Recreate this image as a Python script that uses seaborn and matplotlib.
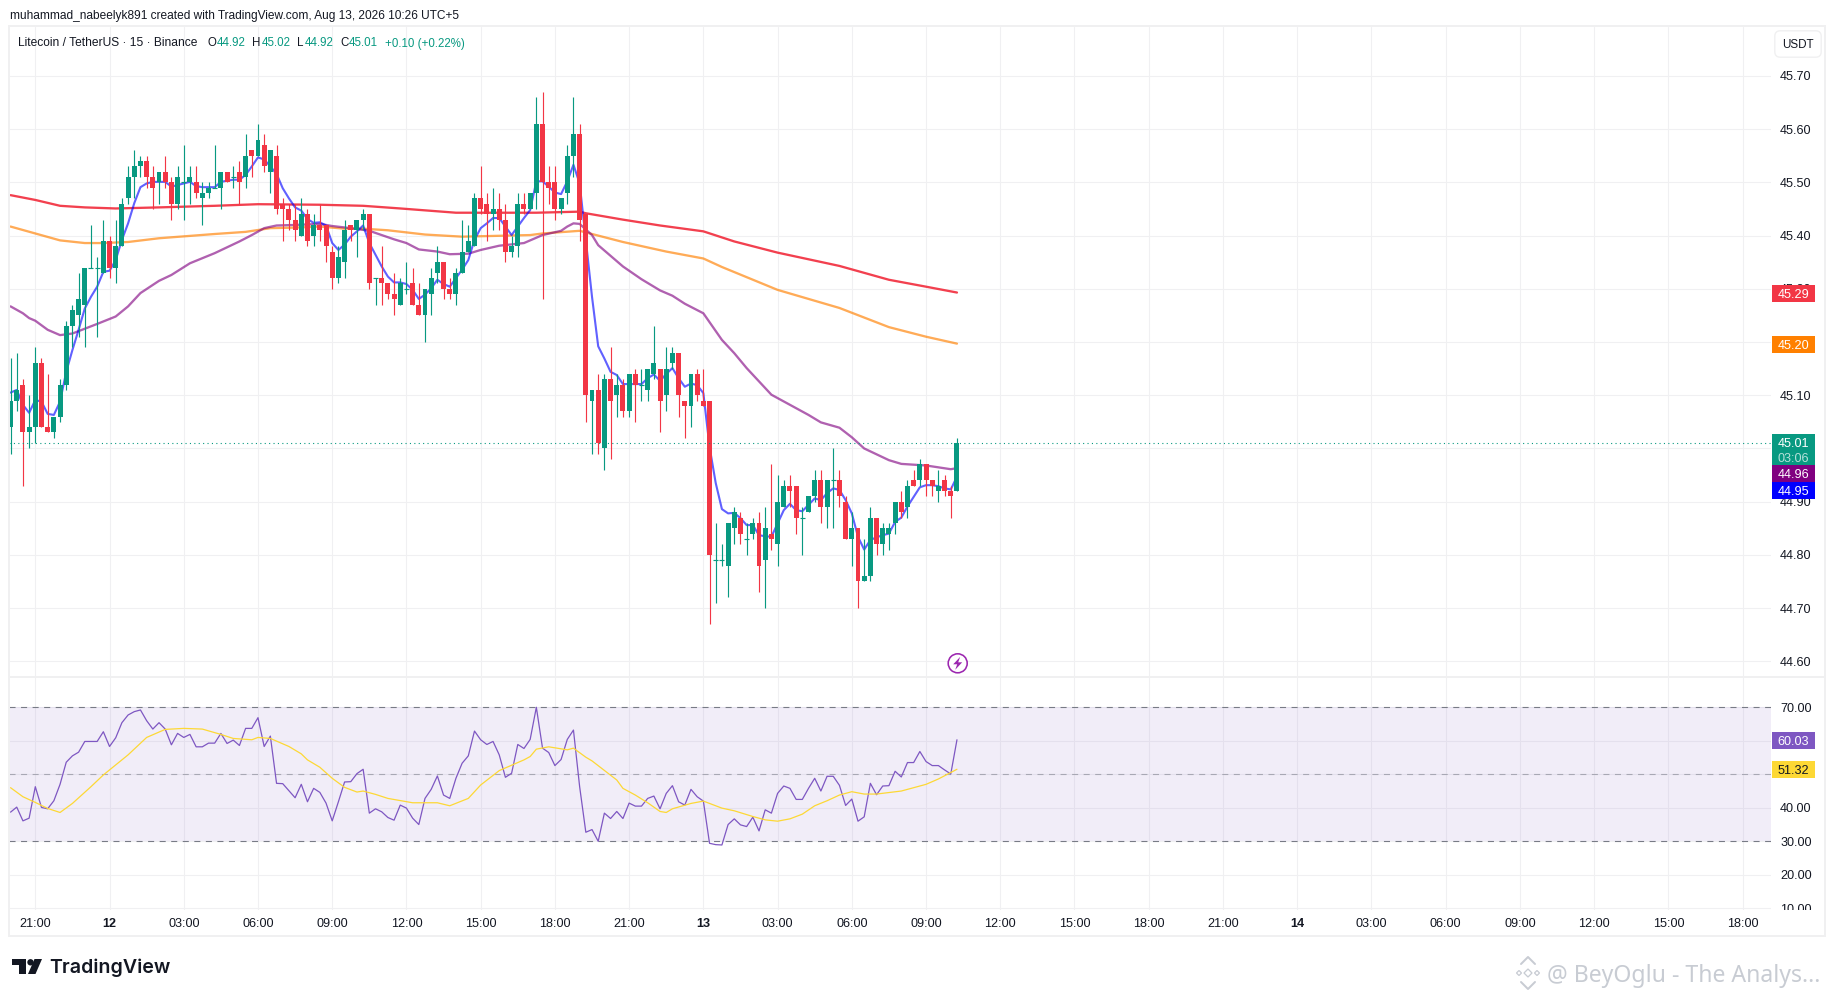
import numpy as np
import pandas as pd
import seaborn as sns
import matplotlib
matplotlib.use("Agg")
import matplotlib.pyplot as plt
from matplotlib.patches import Rectangle, FancyBboxPatch, Polygon, Circle
from matplotlib.lines import Line2D
from matplotlib.transforms import Bbox

# ---------- data ----------
opens = [45.04,45.09,45.12,45.03,45.04,45.16,45.04,45.03,45.06,45.12,
 45.23,45.25,45.27,45.34,45.34,45.33,45.39,45.34,45.38,45.47,
 45.51,45.53,45.54,45.51,45.50,45.52,45.50,45.46,45.50,45.50,
 45.50,45.47,45.48,45.49,45.49,45.52,45.51,45.52,45.51,45.56,
 45.55,45.57,45.52,45.55,45.46,45.45,45.43,45.40,45.44,45.40,
 45.42,45.42,45.37,45.32,45.35,45.42,45.41,45.43,45.44,45.32,
 45.32,45.31,45.29,45.27,45.30,45.31,45.27,45.25,45.29,45.33,
 45.35,45.30,45.29,45.33,45.37,45.38,45.47,45.46,45.44,45.45,
 45.43,45.37,45.38,45.46,45.45,45.48,45.61,45.50,45.50,45.45,
 45.48,45.55,45.59,45.44,45.09,45.11,45.00,45.13,45.10,45.12,
 45.07,45.14,45.12,45.11,45.14,45.15,45.10,45.16,45.18,45.09,
 45.08,45.14,45.09,45.09,44.79,44.79,44.78,44.85,44.87,44.83,
 44.84,44.86,44.79,44.84,44.82,44.89,44.93,44.93,44.87,44.88,
 44.91,44.94,44.89,44.94,44.94,44.90,44.83,44.85,44.75,44.76,
 44.87,44.82,44.84,44.86,44.90,44.89,44.94,44.94,44.97,44.94,
 44.92,44.94,44.92,44.92]
closes = [45.09,45.11,45.03,45.04,45.16,45.04,45.03,45.06,45.12,45.23,
 45.26,45.28,45.34,45.34,45.34,45.39,45.34,45.38,45.46,45.51,
 45.53,45.54,45.51,45.49,45.52,45.50,45.46,45.51,45.50,45.51,
 45.48,45.48,45.49,45.49,45.52,45.50,45.51,45.50,45.55,45.55,
 45.58,45.53,45.56,45.45,45.45,45.43,45.41,45.44,45.39,45.42,
 45.41,45.38,45.32,45.36,45.41,45.41,45.43,45.44,45.31,45.32,
 45.31,45.29,45.28,45.31,45.30,45.27,45.25,45.30,45.32,45.35,
 45.30,45.29,45.33,45.37,45.39,45.47,45.45,45.44,45.45,45.43,
 45.37,45.38,45.46,45.45,45.48,45.61,45.50,45.49,45.45,45.47,
 45.55,45.59,45.43,45.10,45.11,45.01,45.13,45.09,45.12,45.07,
 45.14,45.12,45.12,45.15,45.16,45.09,45.15,45.18,45.10,45.08,
 45.14,45.10,45.08,44.80,44.79,44.79,44.86,44.88,44.84,44.83,
 44.86,44.78,44.85,44.83,44.90,44.93,44.92,44.87,44.87,44.91,
 44.94,44.89,44.94,44.94,44.91,44.83,44.85,44.75,44.76,44.87,
 44.82,44.85,44.85,44.90,44.88,44.93,44.93,44.97,44.94,44.93,
 44.93,44.92,44.91,45.01]
highs = [45.17,45.18,45.13,45.10,45.19,45.17,45.14,45.06,45.13,45.24,
 45.27,45.33,45.34,45.42,45.36,45.43,45.40,45.43,45.47,45.53,
 45.56,45.55,45.55,45.53,45.52,45.55,45.51,45.53,45.57,45.53,
 45.53,45.50,45.50,45.57,45.52,45.52,45.53,45.54,45.59,45.56,
 45.61,45.59,45.56,45.57,45.47,45.46,45.46,45.47,45.45,45.44,
 45.46,45.42,45.38,45.38,45.43,45.42,45.43,45.45,45.44,45.32,
 45.38,45.31,45.33,45.32,45.35,45.34,45.31,45.30,45.34,45.38,
 45.35,45.32,45.34,45.43,45.42,45.48,45.53,45.48,45.49,45.48,
 45.46,45.40,45.48,45.48,45.48,45.66,45.67,45.53,45.53,45.47,
 45.57,45.66,45.61,45.44,45.11,45.14,45.14,45.19,45.14,45.13,
 45.14,45.15,45.15,45.15,45.23,45.15,45.19,45.19,45.18,45.09,
 45.14,45.15,45.15,45.09,44.86,44.82,44.86,44.89,44.88,44.86,
 44.87,44.88,44.89,44.97,44.95,44.94,44.95,44.93,44.89,44.91,
 44.96,44.96,44.94,45.00,44.96,44.91,44.88,44.85,44.83,44.89,
 44.87,44.86,44.86,44.90,44.92,44.94,44.96,44.98,44.97,44.94,
 44.96,44.95,44.93,45.02]
lows = [44.99,45.07,44.93,45.00,45.01,45.04,45.03,45.02,45.05,45.11,
 45.19,45.21,45.19,45.34,45.21,45.33,45.32,45.31,45.38,45.46,
 45.47,45.51,45.49,45.45,45.46,45.49,45.43,45.45,45.43,45.46,
 45.47,45.42,45.47,45.49,45.45,45.50,45.49,45.46,45.49,45.51,
 45.55,45.52,45.48,45.44,45.39,45.41,45.39,45.40,45.38,45.38,
 45.39,45.35,45.30,45.31,45.32,45.39,45.36,45.41,45.30,45.27,
 45.27,45.28,45.25,45.27,45.29,45.27,45.25,45.20,45.25,45.31,
 45.28,45.28,45.27,45.33,45.37,45.38,45.44,45.39,45.41,45.41,
 45.35,45.36,45.36,45.44,45.45,45.45,45.28,45.46,45.43,45.44,
 45.46,45.51,45.39,45.05,44.99,44.99,44.96,44.98,45.06,45.06,
 45.06,45.05,45.09,45.09,45.13,45.03,45.07,45.15,45.06,45.02,
 45.04,45.09,45.08,44.67,44.71,44.78,44.72,44.82,44.82,44.80,
 44.83,44.73,44.70,44.81,44.78,44.89,44.89,44.84,44.80,44.88,
 44.90,44.86,44.85,44.85,44.89,44.83,44.78,44.70,44.75,44.75,
 44.80,44.80,44.81,44.84,44.87,44.87,44.93,44.93,44.91,44.91,
 44.90,44.91,44.87,44.92]

fast_ma = [45.105,45.110,45.082,45.067,45.091,45.088,45.065,45.063,45.088,45.144,
 45.185,45.223,45.263,45.285,45.304,45.332,45.334,45.354,45.392,45.423,
 45.461,45.491,45.498,45.501,45.501,45.501,45.492,45.495,45.498,45.501,
 45.493,45.491,45.491,45.491,45.501,45.503,45.505,45.505,45.514,45.530,
 45.547,45.543,45.530,45.516,45.489,45.470,45.453,45.447,45.431,45.424,
 45.425,45.419,45.386,45.373,45.383,45.398,45.408,45.419,45.386,45.364,
 45.342,45.323,45.312,45.312,45.309,45.298,45.281,45.289,45.301,45.317,
 45.309,45.304,45.320,45.336,45.354,45.392,45.414,45.423,45.433,45.433,
 45.417,45.401,45.417,45.433,45.448,45.502,45.502,45.492,45.481,45.478,
 45.502,45.533,45.498,45.392,45.285,45.192,45.169,45.144,45.138,45.121,
 45.121,45.121,45.121,45.132,45.139,45.127,45.140,45.151,45.132,45.116,
 45.122,45.119,45.104,45.003,44.935,44.886,44.878,44.879,44.869,44.856,
 44.856,44.837,44.835,44.834,44.859,44.884,44.896,44.884,44.882,44.894,
 44.906,44.903,44.916,44.925,44.922,44.903,44.878,44.834,44.810,44.828,
 44.833,44.837,44.840,44.862,44.870,44.891,44.909,44.927,44.931,44.931,
 44.929,44.925,44.923,44.947]

purple_bar = [0,2,3,4,6,8,10,12,14,17,19,21,24,26,29,33,37,39,41,43,46,50,52,55,58,62,64,66,69,71,74,76,79,83,84,86,89,90,91,92,94,95,99,102,105,107,109,112,115,117,119,123,126,129,131,134,136,138,142,144,148,152,153]
purple_ma = [45.267,45.254,45.245,45.240,45.223,45.213,45.216,45.225,45.234,45.248,45.267,45.292,45.315,45.326,45.348,45.367,45.389,45.401,45.414,45.419,45.420,45.422,45.418,45.414,45.409,45.393,45.386,45.374,45.370,45.365,45.366,45.373,45.381,45.386,45.391,45.401,45.409,45.417,45.423,45.422,45.401,45.382,45.342,45.318,45.297,45.287,45.272,45.254,45.204,45.179,45.151,45.101,45.082,45.063,45.049,45.039,45.021,45.000,44.978,44.971,44.968,44.961,44.963]

red_bar = [0,4,8,12,17,24,33,40,50,57,63,72,85,92,93,99,105,112,117,124,134,142,148,153]
red_ma = [45.476,45.467,45.456,45.453,45.451,45.453,45.456,45.459,45.458,45.456,45.451,45.443,45.443,45.445,45.442,45.430,45.419,45.408,45.389,45.368,45.343,45.317,45.304,45.293]

orange_bar = [0,4,8,12,15,19,24,33,38,42,46,50,54,57,61,67,73,84,86,92,93,99,106,112,115,124,134,142,148,153]
orange_ma = [45.417,45.404,45.391,45.386,45.386,45.388,45.395,45.403,45.407,45.414,45.415,45.417,45.413,45.413,45.410,45.402,45.398,45.401,45.404,45.409,45.406,45.388,45.370,45.357,45.341,45.298,45.264,45.228,45.210,45.197]

rsi = [38.7,40.2,36.1,36.9,46.3,40.1,39.7,42.1,47.0,53.6,
 55.5,56.6,59.8,59.8,59.8,62.7,58.3,60.9,65.4,67.7,
 68.7,69.2,66.0,63.5,65.4,63.5,58.8,62.2,61.0,61.9,
 58.2,58.2,59.3,59.3,62.2,59.2,60.2,58.6,63.7,63.7,
 66.9,58.3,61.4,47.3,47.2,45.1,43.0,47.0,41.8,45.8,
 44.6,41.4,36.1,41.8,47.7,47.8,50.2,51.5,38.4,39.7,
 38.8,37.1,36.3,40.8,39.9,36.9,35.0,42.8,45.5,49.5,
 43.8,42.8,48.8,53.3,55.5,62.9,60.3,58.9,59.8,55.8,
 49.1,50.3,58.9,57.7,60.4,70.0,57.8,56.5,52.6,54.4,
 60.4,63.2,46.3,32.7,33.5,30.0,38.4,36.8,38.9,36.8,
 41.4,40.5,40.5,42.8,43.5,39.7,44.3,46.6,41.8,40.8,
 45.5,43.3,42.0,29.4,29.0,28.9,35.0,36.7,34.9,34.4,
 37.2,33.1,39.4,38.4,44.3,46.5,45.8,42.5,42.5,45.8,
 48.8,45.0,49.4,49.4,46.7,40.7,42.6,36.0,37.3,47.3,
 43.9,46.5,46.6,50.9,49.2,53.5,53.5,56.8,53.8,52.6,
 52.6,51.3,50.1,60.3]

rsi_ma_bar = [0,2,4,6,8,10,13,15,19,22,25,28,31,34,36,39,40,42,45,47,48,50,52,54,56,57,59,61,65,69,71,74,76,79,81,83,84,85,87,90,91,93,94,98,99,101,103,105,106,107,110,112,115,117,120,122,124,126,128,130,132,134,136,138,140,144,146,148,150,153]
rsi_ma = [46.0,43.3,41.6,39.8,38.6,41.3,46.3,49.8,55.8,61.0,63.4,63.7,63.5,61.9,60.7,60.3,61.0,60.7,58.3,56.1,54.3,52.1,48.8,46.1,44.7,45.0,44.0,42.8,41.5,41.5,40.6,42.8,46.8,51.1,52.7,54.3,55.3,57.5,58.2,57.3,57.8,55.1,54.0,48.3,45.8,43.8,41.5,38.9,38.6,39.7,41.3,42.0,39.9,39.1,37.4,36.4,36.0,36.7,38.1,40.6,42.1,43.8,44.8,44.1,44.1,45.0,46.0,47.0,48.6,51.5]

x_tick_bars = list(range(4, 281, 12))
x_tick_labels = ["21:00","12","03:00","06:00","09:00","12:00","15:00","18:00","21:00","13",
                 "03:00","06:00","09:00","12:00","15:00","18:00","21:00","14","03:00","06:00",
                 "09:00","12:00","15:00","18:00"]
day_labels = ["12", "13", "14"]
price_ticks = [45.70,45.60,45.50,45.40,45.30,45.20,45.10,45.00,44.90,44.80,44.70,44.60]
rsi_ticks = [70,60,50,40,30,20,10]
rsi_tick_labels = ["70.00","","","40.00","30.00","20.00","10.00"]
last_price = 45.01

# ---------- style ----------
UP, DOWN = "#089981", "#F23645"
GRID = "#f0f0f2"
INK = "#131722"
W, H = 1835, 997
sns.set_theme(style="white")
plt.rcParams["font.family"] = ["Liberation Sans", "DejaVu Sans"]
fig = plt.figure(figsize=(W/100, H/100), dpi=100, facecolor="white")
PX = 0.72

def axrect(x0, y0, x1, y1):
    return [x0/W, 1-y1/H, (x1-x0)/W, (y1-y0)/H]

def fx(x): return x/W
def fy(y): return 1-y/H

ax = fig.add_axes(axrect(9, 27, 1771, 676))
ax2 = fig.add_axes(axrect(9, 677, 1771, 910))
xlim = (-0.252, 284.6)

for a in (ax, ax2):
    a.set_xlim(*xlim)
    a.set_facecolor("white")
    for s in a.spines.values():
        s.set_visible(False)
    a.set_xticks(x_tick_bars)
    a.grid(True, color=GRID, lw=1.1*PX, zorder=0)
    a.set_axisbelow(True)

# ---------- candles ----------
df = pd.DataFrame({"bar": np.arange(len(opens)), "o": opens, "h": highs, "l": lows, "c": closes})
df["color"] = np.where(df.c >= df.o, UP, DOWN)

ax.set_ylim(44.5724, 45.792)

# moving averages beneath candles
for bars, vals, col, al in [(red_bar, red_ma, "#F23645", 0.95), (orange_bar, orange_ma, "#FF8000", 0.66),
                            (purple_bar, purple_ma, "#800080", 0.62)]:
    sns.lineplot(x=bars, y=vals, ax=ax, color=col, lw=2*PX*1.15, alpha=al,
                 estimator=None, sort=False, legend=False, zorder=3)

sns.lineplot(x=df.bar, y=fast_ma, ax=ax, color="#0000FF", lw=2*PX*1.05, alpha=0.62,
             estimator=None, sort=False, legend=False, zorder=3)

ax.vlines(df.bar, df.l, df.h, colors=df.color, lw=1.15*PX, zorder=4)
body = df[df.o != df.c]
ax.bar(body.bar, (body.c-body.o).abs(), bottom=body[["o", "c"]].min(axis=1), width=0.8,
       color=body.color, linewidth=0, zorder=5)
doji = df[df.o == df.c]
ax.hlines(doji.o, doji.bar-0.4, doji.bar+0.4, colors=doji.color, lw=1.15*PX, zorder=5)

ax.axhline(last_price, color=UP, lw=1.1*PX, ls=(0, (1, 3)), zorder=6)

# ---------- RSI ----------
ax2.set_ylim(9.49, 79.04)
ax2.axhspan(30, 70, color="#7E57C2", alpha=0.1, lw=0, zorder=1)
for lev, alpha in [(70, 1), (50, 0.55), (30, 1)]:
    ax2.axhline(lev, color="#787B86", lw=1.1*PX, alpha=alpha, ls=(0, (5.5, 5)), zorder=2)
sns.lineplot(x=df.bar, y=rsi, ax=ax2, color="#7E57C2", lw=1.25*PX, estimator=None, sort=False, legend=False, zorder=3)
sns.lineplot(x=rsi_ma_bar, y=rsi_ma, ax=ax2, color="#FDD835", lw=1.25*PX, estimator=None, sort=False, legend=False, zorder=3)

# ---------- ticks ----------
for a in (ax, ax2):
    a.set_xlabel("")
    a.set_ylabel("")
ax.tick_params(axis="x", length=0, labelbottom=False)
ax.yaxis.tick_right()
ax.set_yticks(price_ticks)
ax.set_yticklabels([f"{v:.2f}" for v in price_ticks], fontsize=9.1, color=INK)
ax.tick_params(axis="y", length=0, pad=6.5)
ax2.yaxis.tick_right()
ax2.set_yticks(rsi_ticks)
ax2.set_yticklabels(rsi_tick_labels, fontsize=9.1, color=INK)
ax2.tick_params(axis="y", length=0, pad=6.5)
ax2.set_xticklabels(x_tick_labels, fontsize=9.1, color=INK)
ax2.tick_params(axis="x", length=0, pad=6)
for t in ax2.get_xticklabels():
    if t.get_text() in day_labels:
        t.set_fontweight("bold")
# the lowest RSI label is cut off at the pane's bottom edge
for t in ax2.get_yticklabels():
    if t.get_text() == "10.00":
        t.set_clip_on(True)
        t.set_clip_box(Bbox([[1700, 997-910], [1835, 997]]))

# ---------- frame ----------
BORDER = "#f0f0f1"
fig.add_artist(Rectangle((fx(9), fy(936)), (1825-9)/W, (936-26)/H, transform=fig.transFigure,
                         fill=False, ec=BORDER, lw=2*PX, zorder=2))
fig.add_artist(Line2D([fx(9), fx(1825)], [fy(676.5), fy(676.5)], color=BORDER, lw=2*PX, zorder=2))

# ---------- price labels ----------
def tag(y0, y1, col, txt, tc="white", sub=None):
    fig.add_artist(Rectangle((fx(1772), fy(y1)), 43/W, (y1-y0)/H, transform=fig.transFigure,
                             fc=col, ec="none", zorder=10))
    yc = (y0+y1)/2 if sub is None else y0+8.5
    fig.text(fx(1793.5), fy(yc), txt, color=tc, fontsize=9.1, ha="center", va="center_baseline", zorder=11)
    if sub:
        fig.text(fx(1793.5), fy(y0+23), sub, color=tc, alpha=0.7, fontsize=9.1, ha="center", va="center_baseline", zorder=11)

tag(285, 301.7, "#F23645", "45.29")
tag(336, 352.7, "#FF8000", "45.20")
tag(434, 465, "#089981", "45.01", sub="03:06")
tag(465, 482, "#800080", "44.96")
tag(482, 498.7, "#0000FF", "44.95")
tag(732, 749, "#7E57C2", "60.03")
tag(761, 778, "#FDD835", "51.32", tc=INK)

# USDT button
fig.add_artist(FancyBboxPatch((fx(1777), fy(55)), 42/W, 22/H, boxstyle="round,pad=0.0012,rounding_size=0.003",
                              transform=fig.transFigure, fc="white", ec=BORDER, lw=1.4*PX, zorder=10,
                              mutation_aspect=W/H))
fig.text(fx(1798), fy(44), "USDT", fontsize=8.4, color=INK, ha="center", va="center_baseline", zorder=11)

# ---------- header + legend ----------
fig.text(fx(10), fy(15), "muhammad_nabeelyk891 created with TradingView.com, Aug 13, 2026 10:26 UTC+5",
         fontsize=8.53, color=INK, va="center_baseline")
fig.text(fx(18), fy(42), "Litecoin / TetherUS · 15 · Binance", fontsize=8.65, color=INK, va="center_baseline", zorder=8)
for x, s, col in [(207, "O", INK), (217, "44.92", UP), (252, "H", INK), (262, "45.02", UP),
                  (297, "L", INK), (305, "44.92", UP), (340, "C", INK), (349, "45.01", UP),
                  (385, "+0.10 (+0.22%)", UP)]:
    fig.text(fx(x), fy(42), s, fontsize=8.3, color=col, va="center_baseline", zorder=8)

# ---------- lightning icon ----------
LX, LY = 957.7, 663.3
fig.add_artist(Circle((LX, H-LY), 9.5, transform=None, fc="white", ec="#9C27B0", lw=1.6*PX, zorder=10))
bolt = [(2.5,-6.5),(-4.5,1),(-0.5,1),(-2.5,6.5),(4.5,-1),(0.5,-1)]
fig.add_artist(Polygon([(LX+a, H-(LY+b)) for a, b in bolt], closed=True, transform=None,
                       fc="#9C27B0", ec="none", zorder=11))

# ---------- TradingView logo ----------
LOGO = "#131722"
for pts in ([(12,959),(26,959),(26,974),(19,974),(19,965),(12,965)],
            [(34.5,959),(42,959),(35.5,974),(28,974)]):
    fig.add_artist(Polygon([(a, H-b) for a, b in pts], closed=True, transform=None, fc=LOGO, ec="none"))
fig.add_artist(Circle((30.5, H-962.3), 3.2, transform=None, fc=LOGO, ec="none"))
fig.text(fx(49), fy(966), "TradingView", fontsize=14.1, family="Inter", fontweight="semibold", color=LOGO, va="center_baseline")

# ---------- watermark ----------
WM = "#c8ccd3"
fig.text(fx(1547), fy(973), "@ BeyOglu - The Analys...", fontsize=16.6, family="Noto Sans", color=WM, va="center_baseline")
CX, CY = 1528, 973
for cx, cy, r in [(CX, CY, 4), (CX-9, CY, 2.5), (CX+9, CY, 2.5)]:
    fig.add_artist(Polygon([(cx-r, H-cy), (cx, H-cy-r), (cx+r, H-cy), (cx, H-cy+r)], closed=True,
                           transform=None, fill=False, ec=WM, lw=1.3*PX))
for sy in (-1, 1):
    fig.add_artist(Line2D([CX-7, CX, CX+7], [H-(CY+sy*9), H-(CY+sy*16), H-(CY+sy*9)], transform=None, color=WM, lw=2*PX))

fig.savefig("out.png", dpi=100)
